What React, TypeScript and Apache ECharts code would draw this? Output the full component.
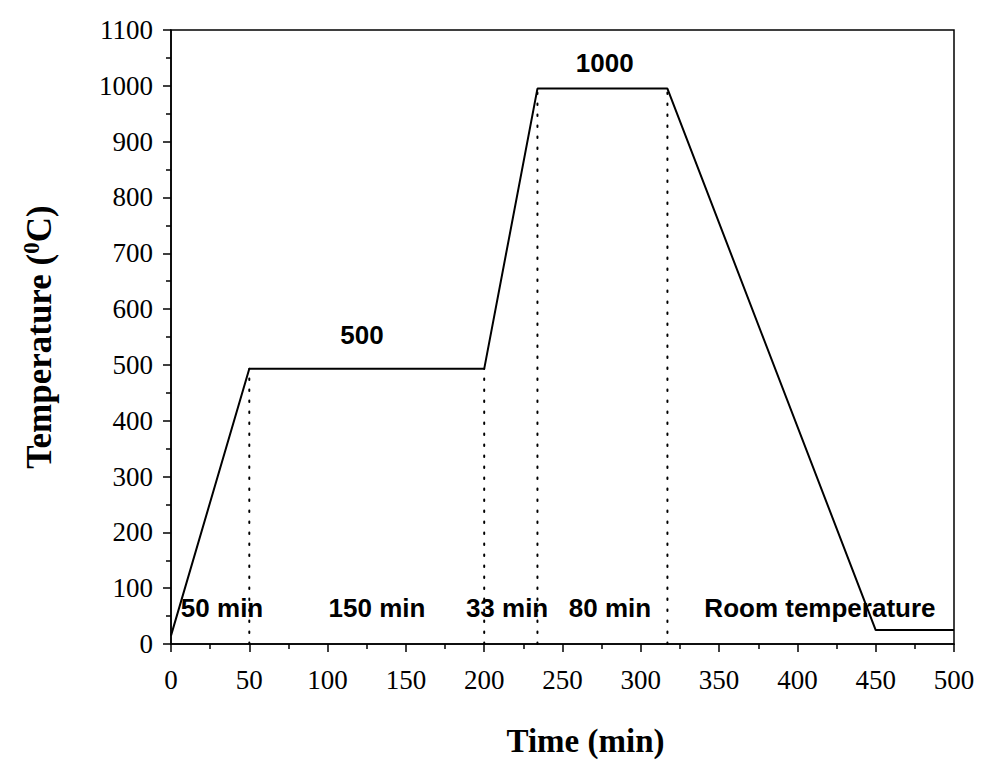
import React, { useEffect, useRef } from "react";
import * as echarts from "echarts";

// Heating profile (time in min, temperature in °C)
const profileTime = [0, 50, 200, 234, 317, 450, 500];
const profileTemp = [15, 493, 493, 995, 995, 25, 25];

// Dotted guide lines (x position, top temperature)
const guideX = [50, 200, 234, 317];
const guideTop = [493, 493, 995, 995];

// Annotations
const noteTexts = ["50 min", "150 min", "33 min", "80 min", "Room temperature", "500", "1000"];
const noteX = [32.6, 131.5, 214.6, 280.3, 414.4, 122, 277];
const noteY = [64, 64, 64, 64, 64, 554, 1040];

const xTicks = { min: 0, max: 500, interval: 50 };
const yTicks = { min: 0, max: 1100, interval: 100 };

export default function App() {
  const ref = useRef<HTMLDivElement>(null);
  useEffect(() => {
    if (!ref.current) return;
    const chart = echarts.init(ref.current, null, { renderer: "svg" });
    const serif = "'Liberation Serif', 'Times New Roman', serif";
    const sans = "'Liberation Sans', Arial, sans-serif";
    const axisCommon = {
      axisLine: { show: true, onZero: false, lineStyle: { color: "#000", width: 1.5 } },
      axisTick: { show: true, inside: false, length: 8, lineStyle: { color: "#000", width: 1.5 } },
      minorTick: { show: true, splitNumber: 2, length: 5, lineStyle: { color: "#000", width: 1.5 } },
      splitLine: { show: false },
      minorSplitLine: { show: false },
    };
    const guideSeries = guideX.map((x, i) => ({
      type: "line",
      data: [[x, 0], [x, guideTop[i]]],
      symbol: "none",
      silent: true,
      lineStyle: { color: "#000", width: 2, type: [1.5, 9.5], cap: "round" },
      z: 1,
    }));
    chart.setOption({
      animation: false,
      backgroundColor: "#fff",
      grid: {
        left: 171, right: 27, top: 30, height: 621,
        show: true, borderColor: "#000", borderWidth: 1.5,
      },
      xAxis: {
        type: "value",
        ...xTicks,
        ...axisCommon,
        axisLabel: {
          color: "#000", fontFamily: serif, fontSize: 27, margin: 22,
          formatter: (v: number) => String(v),
        },
        name: "Time (min)",
        nameLocation: "middle",
        nameGap: 80,
        nameTextStyle: {
          color: "#000", fontFamily: serif, fontSize: 33, fontWeight: "bold",
          padding: [0, 0, 0, 46],
        },
      },
      yAxis: {
        type: "value",
        ...yTicks,
        ...axisCommon,
        axisLabel: {
          color: "#000", fontFamily: serif, fontSize: 27, margin: 18,
          formatter: (v: number) => String(v),
        },
        name: "{m|Temperature (}{s|0}{m|C)}",
        nameLocation: "middle",
        nameRotate: 90,
        nameGap: 112,
        nameTextStyle: {
          color: "#000",
          fontFamily: serif,
          fontWeight: "bold",
          rich: {
            m: { fontFamily: serif, fontSize: 35, fontWeight: "bold", color: "#000" },
            s: { fontFamily: serif, fontSize: 23, fontWeight: "bold", color: "#000", padding: [0, 0, 16, 0] },
          },
        },
      },
      series: [
        ...guideSeries,
        {
          type: "line",
          data: profileTime.map((t, i) => [t, profileTemp[i]]),
          symbol: "none",
          lineStyle: { color: "#000", width: 2 },
          z: 3,
        },
        {
          type: "scatter",
          data: noteTexts.map((t, i) => ({ value: [noteX[i], noteY[i]], name: t })),
          symbolSize: 0,
          silent: true,
          itemStyle: { opacity: 1, color: "transparent" },
          label: {
            show: true,
            position: "inside",
            formatter: (p: any) => p.name,
            color: "#000",
            opacity: 1,
            fontFamily: sans,
            fontWeight: "bold",
            fontSize: 26,
          },
          z: 4,
        },
      ],
    });
    return () => chart.dispose();
  }, []);
  return <div ref={ref} style={{ position: "fixed", left: 0, top: 0, width: 981, height: 762 }} />;
}
